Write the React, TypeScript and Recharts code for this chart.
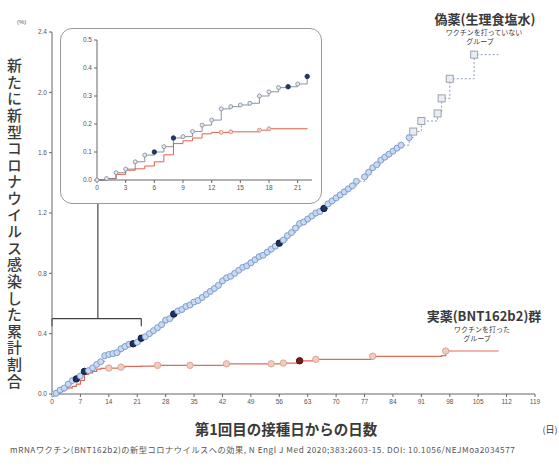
import { LineChart, Line, XAxis, YAxis, ReferenceLine } from 'recharts';

// placebo (偽薬) cumulative incidence
const placeboDays = [
    0, 1, 2, 3, 4, 5, 6, 7, 8, 9, 10, 11, 12, 13, 14, 15, 16, 17, 18, 19, 20, 21, 22,
    23, 24, 25, 26, 27, 28, 29, 30, 31, 32, 33, 34, 35, 36, 37, 38, 39, 40, 41, 42,
    43, 44, 45, 46, 47, 48, 49, 50, 51, 52, 53, 54, 55, 56, 57, 58, 59, 60, 61, 62,
    63, 64, 65, 66, 67, 68, 69, 70, 71, 72, 73, 74, 75, 77, 78, 79, 80, 81, 82, 83,
    84, 85, 86, 88, 89, 91, 95, 96, 98, 104, 110,
];
const placeboRate = [
    0, 0.005, 0.026, 0.039, 0.065, 0.089, 0.1, 0.119, 0.15, 0.155, 0.173, 0.196, 0.214, 0.254, 0.262, 0.268, 0.274, 0.3, 0.315, 0.33, 0.333, 0.343, 0.37,
    0.38, 0.4, 0.42, 0.44, 0.46, 0.49, 0.5, 0.53, 0.55, 0.56, 0.58, 0.59, 0.61, 0.62, 0.64, 0.66, 0.68, 0.7, 0.72, 0.75,
    0.77, 0.78, 0.8, 0.82, 0.84, 0.85, 0.87, 0.89, 0.91, 0.92, 0.94, 0.96, 0.98, 1.0, 1.02, 1.05, 1.07, 1.1, 1.13, 1.14,
    1.16, 1.18, 1.2, 1.21, 1.23, 1.26, 1.28, 1.3, 1.32, 1.34, 1.36, 1.38, 1.41, 1.44, 1.47, 1.5, 1.52, 1.55, 1.57, 1.59,
    1.61, 1.63, 1.65, 1.7, 1.74, 1.81, 1.86, 1.96, 2.09, 2.25, 2.25,
];
const placeboDark = [6, 8, 20, 22, 30, 56, 67];

// vaccine (実薬 BNT162b2)
const vaccineDays = [0, 1, 2, 3, 4, 5, 6, 7, 8, 9, 10, 11, 12, 13, 14, 17, 18, 22, 26, 34, 43, 54, 57, 61, 65, 79, 96, 97, 110];
const vaccineRate = [
    0, 0.005, 0.02, 0.035, 0.04, 0.05, 0.065, 0.09, 0.13, 0.14, 0.15, 0.165, 0.17, 0.17, 0.172, 0.178, 0.183, 0.185,
    0.19, 0.19, 0.2, 0.2, 0.205, 0.22, 0.23, 0.25, 0.255, 0.285, 0.285,
];
const vaccineMarked = [14, 17, 26, 34, 43, 54, 57, 61, 65, 79, 97];
const vaccineDark = [61];
const insetVaccineMarked = [13, 14, 17, 18];

const mainTicksX = [0, 7, 14, 21, 28, 35, 42, 49, 56, 63, 70, 77, 84, 91, 98, 105, 112, 119];
const mainTicksY = [0, 0.4, 0.8, 1.2, 1.6, 2.0, 2.4];
const insetTicksX = [0, 3, 6, 9, 12, 15, 18, 21];
const insetTicksY = [0, 0.1, 0.2, 0.3, 0.4, 0.5];

const placebo = placeboDays.map((d, i) => ({ day: d, rate: placeboRate[i] }));
const vaccine = vaccineDays.map((d, i) => ({ day: d, rate: vaccineRate[i] }));
const placeboEarly = placebo.filter((p) => p.day <= 22);
const vaccineEarly = vaccine.filter((p) => p.day <= 22);

const tickFont = { fontSize: 6.5, fill: '#555', fontFamily: 'Liberation Sans, Arial' };
const jp = '"Noto Sans CJK JP", "Noto Sans", sans-serif';

const placeboDot = (p: any) => {
    const { cx, cy, payload, index } = p;
    if (cx == null || payload.day >= 110) return <g key={index} />;
    if (placeboDark.includes(payload.day))
        return <circle key={index} cx={cx} cy={cy} r={3.2} fill="#1f3160" stroke="#101c3c" />;
    if (payload.day >= 89)
        return <rect key={index} x={cx - 3.5} y={cy - 3.5} width={7} height={7} fill="#e9eef4" stroke="#9aa3ad" strokeWidth={1} />;
    return <circle key={index} cx={cx} cy={cy} r={3} fill="#c9d9ef" stroke="#7c9dd1" strokeWidth={1} />;
};

const vaccineDot = (p: any) => {
    const { cx, cy, payload, index } = p;
    if (cx == null || !vaccineMarked.includes(payload.day)) return <g key={index} />;
    if (vaccineDark.includes(payload.day))
        return <circle key={index} cx={cx} cy={cy} r={3.2} fill="#7a1a14" stroke="#5a0e0a" />;
    return <circle key={index} cx={cx} cy={cy} r={3.2} fill="#f2cdbf" stroke="#dba593" strokeWidth={1} />;
};

const insetPlaceboDot = (p: any) => {
    const { cx, cy, payload, index } = p;
    if (cx == null) return <g key={index} />;
    if (placeboDark.includes(payload.day))
        return <circle key={index} cx={cx} cy={cy} r={2.2} fill="#22385f" stroke="#22385f" />;
    return <circle key={index} cx={cx} cy={cy} r={2} fill="#e3e9f0" stroke="#7d8896" strokeWidth={0.8} />;
};

const insetVaccineDot = (p: any) => {
    const { cx, cy, payload, index } = p;
    if (cx == null || !insetVaccineMarked.includes(payload.day)) return <g key={index} />;
    return <circle key={index} cx={cx} cy={cy} r={2} fill="#f1d2c8" stroke="#c98a7a" strokeWidth={0.8} />;
};

function Label({ x, y, size, text, weight = 400, color = '#3a3a3a' }: any) {
    return (
        <div style={{
            position: 'absolute', left: x, top: y, transform: 'translate(-50%, -50%)',
            fontSize: size, fontWeight: weight, color, fontFamily: jp, whiteSpace: 'nowrap', lineHeight: 1,
        }}>{text}</div>
    );
}

export default function App() {
    return (
        <div style={{ position: 'absolute', left: 0, top: 0, width: 559, height: 466, background: '#fff', overflow: 'hidden' }}>
            <LineChart width={559} height={466} margin={{ top: 32, right: 24, left: 22, bottom: 52 }}>
                <XAxis
                    type="number" dataKey="day" domain={[0, 119]} ticks={mainTicksX} height={20}
                    tick={tickFont} tickSize={3} axisLine={{ stroke: '#666' }} tickLine={{ stroke: '#666' }}
                    allowDataOverflow
                />
                <YAxis
                    type="number" domain={[0, 2.4]} ticks={mainTicksY} width={30}
                    tick={tickFont} tickSize={3} axisLine={{ stroke: '#666' }} tickLine={{ stroke: '#666' }}
                    tickFormatter={(v: number) => v.toFixed(1)}
                />
                <ReferenceLine segment={[{ x: 0, y: 0.45 }, { x: 0, y: 0.5 }]} stroke="#444" strokeWidth={1.2} ifOverflow="visible" />
                <ReferenceLine segment={[{ x: 0, y: 0.5 }, { x: 22, y: 0.5 }]} stroke="#444" strokeWidth={1.2} ifOverflow="visible" />
                <ReferenceLine segment={[{ x: 22, y: 0.5 }, { x: 22, y: 0.45 }]} stroke="#444" strokeWidth={1.2} ifOverflow="visible" />
                <ReferenceLine segment={[{ x: 11.3, y: 0.5 }, { x: 11.3, y: 1.27 }]} stroke="#444" strokeWidth={1.2} ifOverflow="visible" />
                <Line
                    data={vaccine} dataKey="rate" type="stepAfter" stroke="#e06a58" strokeWidth={1.2}
                    dot={vaccineDot} isAnimationActive={false}
                />
                <Line
                    data={placebo} dataKey="rate" type="stepAfter" stroke="#8a9ab5" strokeWidth={1}
                    strokeDasharray="2 2" dot={placeboDot} isAnimationActive={false}
                />
            </LineChart>

            {/* inset: first 21 days */}
            <div style={{ position: 'absolute', left: 60, top: 28, width: 262, height: 176, background: '#fff' }}>
                <LineChart width={262} height={176} margin={{ top: 12, right: 10, left: 12, bottom: 8 }}>
                    <XAxis
                        type="number" dataKey="day" domain={[0, 22.5]} ticks={insetTicksX} height={16}
                        tick={tickFont} tickSize={3} axisLine={{ stroke: '#666' }} tickLine={{ stroke: '#666' }}
                    />
                    <YAxis
                        type="number" domain={[0, 0.5]} ticks={insetTicksY} width={25}
                        tick={tickFont} tickSize={3} axisLine={{ stroke: '#666' }} tickLine={{ stroke: '#666' }}
                        tickFormatter={(v: number) => v.toFixed(1)}
                    />
                    <Line
                        data={vaccineEarly} dataKey="rate" type="stepAfter" stroke="#e2604c" strokeWidth={1}
                        dot={insetVaccineDot} isAnimationActive={false}
                    />
                    <Line
                        data={placeboEarly} dataKey="rate" type="stepAfter" stroke="#6f7785" strokeWidth={0.8}
                        dot={insetPlaceboDot} isAnimationActive={false}
                    />
                </LineChart>
            </div>
            <div style={{
                position: 'absolute', left: 60, top: 28, width: 262, height: 176, boxSizing: 'border-box',
                border: '1.5px solid #9a9a9a', borderRadius: 12, pointerEvents: 'none',
            }} />

            <div style={{ position: 'absolute', left: 17, top: 19, fontSize: 6, color: '#555', fontFamily: 'Liberation Sans, Arial' }}>(%)</div>
            <div style={{
                position: 'absolute', left: 6, top: 58, writingMode: 'vertical-rl', fontSize: 15, letterSpacing: 1.6,
                lineHeight: '17px', color: '#3a3a3a', fontFamily: jp, fontWeight: 500, whiteSpace: 'nowrap',
            }}>新たに新型コロナウイルス感染した累計割合</div>

            <Label x={286} y={429} size={14.5} weight={600} text="第1回目の接種日からの日数" />
            <Label x={550} y={429} size={9} text="(日)" />

            <Label x={485} y={18} size={13} weight={600} text="偽薬(生理食塩水)" />
            <Label x={484} y={32} size={7} text="ワクチンを打っていない" />
            <Label x={480} y={41} size={7} text="グループ" />

            <Label x={484} y={315} size={13} weight={600} text="実薬(BNT162b2)群" />
            <Label x={482} y={329} size={7} text="ワクチンを打った" />
            <Label x={477} y={338} size={7} text="グループ" />

            <div style={{
                position: 'absolute', left: 10, top: 443, fontSize: 8.2, letterSpacing: 0.55, color: '#555',
                fontFamily: jp, whiteSpace: 'nowrap',
            }}>mRNAワクチン(BNT162b2)の新型コロナウイルスへの効果, N Engl J Med 2020;383:2603-15. DOI: 10.1056/NEJMoa2034577</div>
        </div>
    );
}
